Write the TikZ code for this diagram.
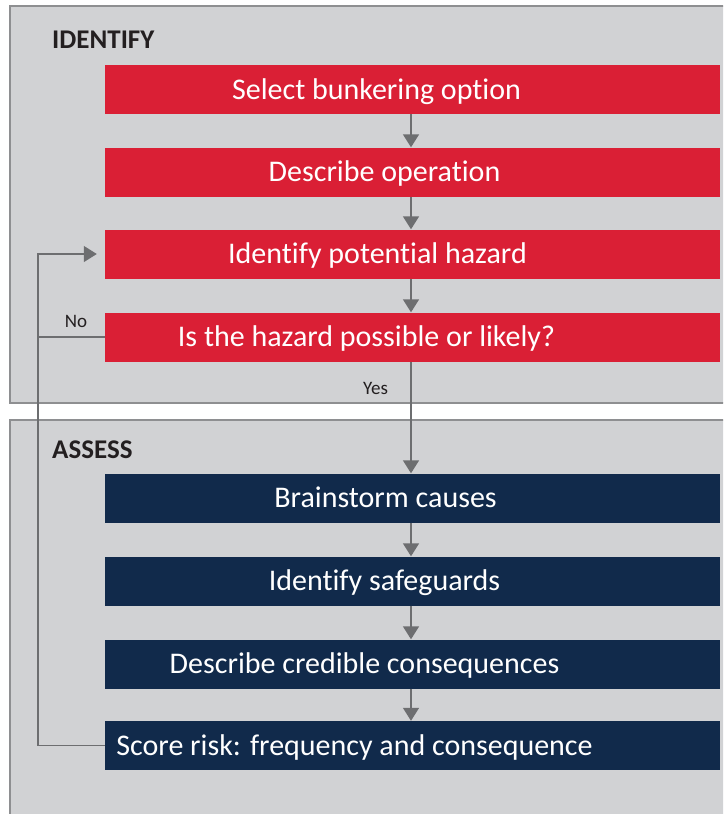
\documentclass[tikz,border=0pt]{standalone}
\usepackage{fontspec}
\setmainfont{Carlito}[Ligatures=NoCommon]
\usetikzlibrary{arrows.meta}

\definecolor{panelgray}{HTML}{D1D2D4}
\definecolor{framegray}{HTML}{8E8F91}
\definecolor{stepred}{HTML}{DA1F35}
\definecolor{stepnavy}{HTML}{112A4B}
\definecolor{arrowgray}{HTML}{6D6E70}
\definecolor{labelblack}{HTML}{231F20}

\tikzset{
  panel/.style={fill=panelgray, draw=framegray, line width=1.2pt},
  stepbox/.style={minimum width=615pt, minimum height=49pt, inner sep=0pt},
  redbox/.style={stepbox, fill=stepred},
  navybox/.style={stepbox, fill=stepnavy},
  boxtext/.style={text=white, font=\fontsize{30}{34}\selectfont, text height=25pt, text depth=6pt},
  paneltitle/.style={text=labelblack, font=\bfseries\fontsize{27}{31}\selectfont, anchor=west, inner sep=0pt},
  smalltext/.style={text=labelblack, font=\fontsize{19}{22}\selectfont},
  flow/.style={draw=arrowgray, line width=1.5pt, -{Triangle[width=16pt,length=13pt]}},
  loopline/.style={draw=arrowgray, line width=1.3pt}
}

\begin{document}
\begin{tikzpicture}[x=1pt,y=-1pt]
  \useasboundingbox (0,0) rectangle (723,814);
  \clip (0,0) rectangle (723,814);

  % the two panels
  \draw[panel] (10,6) rectangle (740,403);
  \draw[panel] (10,420) rectangle (740,830);
  \node[paneltitle] (identifytitle) at (52,40) {IDENTIFY};
  \node[paneltitle] (assesstitle) at (52,450) {ASSESS};

  % identify steps
  \node[redbox, label={[boxtext,xshift=-36pt]center:Select bunkering option}] (select) at (412.5,89.5) {};
  \node[redbox, label={[boxtext,xshift=-28pt]center:Describe operation}] (describe) at (412.5,172) {};
  \node[redbox, label={[boxtext,xshift=-35pt]center:Identify potential hazard}] (hazard) at (412.5,254) {};
  \node[redbox, label={[boxtext,xshift=-46pt]center:Is the hazard possible or likely?}] (likely) at (412.5,337) {};

  % assess steps
  \node[navybox, label={[boxtext,xshift=-27pt]center:Brainstorm causes}] (causes) at (412.5,498) {};
  \node[navybox, label={[boxtext,xshift=-28pt]center:Identify safeguards}] (safeguards) at (412.5,581) {};
  \node[navybox, label={[boxtext,xshift=-48pt]center:Describe credible consequences}] (consequences) at (412.5,664) {};
  \node[navybox, label={[boxtext,xshift=-58pt]center:Score risk: frequency and consequence}] (score) at (412.5,745.5) {};

  % arrows down
  \draw[flow] (select.south -| 411,0) -- (describe.north -| 411,0);
  \draw[flow] (describe.south -| 411,0) -- (hazard.north -| 411,0);
  \draw[flow] (hazard.south -| 411,0) -- (likely.north -| 411,0);
  \draw[flow] (likely.south -| 411,0) -- node[smalltext, pos=0.24, left=19pt] (yes) {Yes} (causes.north -| 411,0);
  \draw[flow] (causes.south -| 411,0) -- (safeguards.north -| 411,0);
  \draw[flow] (safeguards.south -| 411,0) -- (consequences.north -| 411,0);
  \draw[flow] (consequences.south -| 411,0) -- (score.north -| 411,0);

  % loop back
  \coordinate (loopleft) at (38,745.5);
  \draw[loopline] (score.west) -- (loopleft);
  \draw[flow, line width=1.3pt, shorten >=8pt] (loopleft) |- (hazard.west);
  \draw[loopline] (likely.west) -- (likely.west -| loopleft);
  \node[smalltext] (no) at (76,321) {No};
\end{tikzpicture}
\end{document}
